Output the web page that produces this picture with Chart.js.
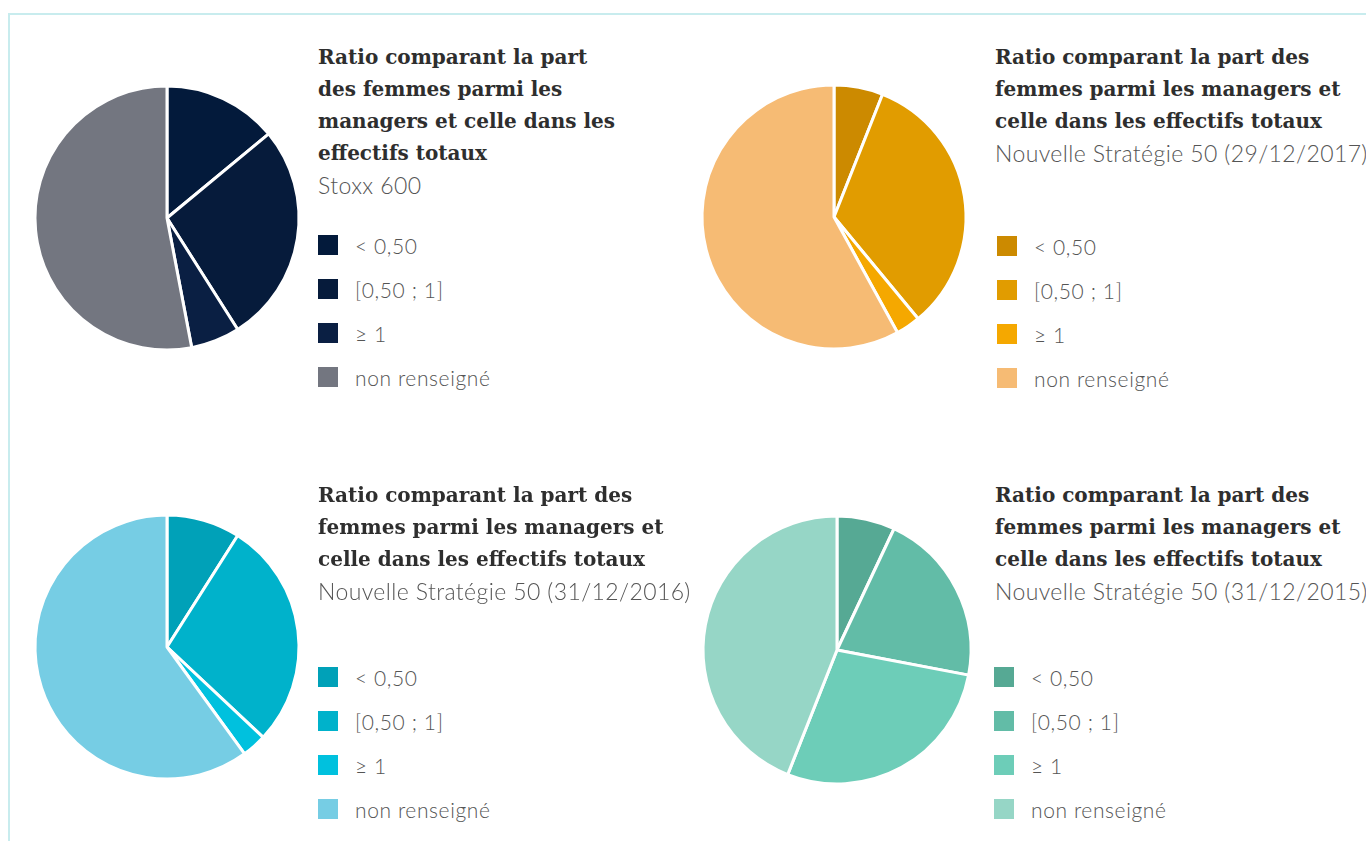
<!DOCTYPE html>
<html lang="fr">
<head>
<meta charset="utf-8">
<script src="https://cdn.jsdelivr.net/npm/chart.js@4"></script>
<style>
    body { margin: 0; background: #fff; width: 1366px; height: 841px; overflow: hidden; position: relative; }
    .frame { position: absolute; left: 8px; top: 13px; width: 1400px; height: 900px; border-top: 2px solid #c8ecee; border-left: 2px solid #c8ecee; }
    .pie { position: absolute; }
    .title { position: absolute; font-family: "DejaVu Serif", serif; font-weight: bold; font-size: 20px; line-height: 32px; color: #2e2e2e; white-space: nowrap; }
    .sub { font-family: Lato, sans-serif; font-weight: 300; font-size: 23px; letter-spacing: 0.4px; color: #555; }
    .legend { position: absolute; font-family: Lato, sans-serif; font-weight: 300; font-size: 21px; letter-spacing: 0.6px; color: #555; }
    .legend div { height: 44px; display: flex; align-items: center; }
    .legend span.box { display: inline-block; width: 20px; height: 20px; margin-right: 17px; }
</style>
</head>
<body>
<div class="frame"></div>

<canvas id="pie1" class="pie" width="300" height="300" style="left:17px;top:68px"></canvas>
<canvas id="pie2" class="pie" width="300" height="300" style="left:684px;top:67px"></canvas>
<canvas id="pie3" class="pie" width="300" height="300" style="left:17px;top:497px"></canvas>
<canvas id="pie4" class="pie" width="300" height="300" style="left:687px;top:500px"></canvas>

<div id="title1" class="title" style="left:318px;top:41px"></div>
<div id="title2" class="title" style="left:995px;top:41px"></div>
<div id="title3" class="title" style="left:318px;top:479px"></div>
<div id="title4" class="title" style="left:995px;top:479px"></div>

<div id="legend1" class="legend" style="left:318px;top:223px"></div>
<div id="legend2" class="legend" style="left:997px;top:224px"></div>
<div id="legend3" class="legend" style="left:318px;top:655px"></div>
<div id="legend4" class="legend" style="left:994px;top:655px"></div>

<script>
// categories (same for all four pies)
const labels = ['< 0,50', '[0,50 ; 1]', '\u2265 1', 'non renseign\u00e9'];

// shares in %, clockwise from 12 o'clock
const stoxx600 = [14, 27, 6, 53];
const ns50_2017 = [6, 33, 3, 58];
const ns50_2016 = [9, 28, 3, 60];
const ns50_2015 = [7, 21, 28, 44];

const titleLinesNarrow = ['Ratio comparant la part', 'des femmes parmi les', 'managers et celle dans les', 'effectifs totaux'];
const titleLinesWide = ['Ratio comparant la part des', 'femmes parmi les managers et', 'celle dans les effectifs totaux'];
const subtitles = ['Stoxx 600', 'Nouvelle Strat\u00e9gie 50 (29/12/2017)', 'Nouvelle Strat\u00e9gie 50 (31/12/2016)', 'Nouvelle Strat\u00e9gie 50 (31/12/2015)'];

const navy = ['#031a3b', '#061b3b', '#0a1f43', '#737680'];
const amber = ['#cc8a00', '#e19c00', '#f5a800', '#f6bb74'];
const cyan = ['#00a1b8', '#00b2cb', '#00c1de', '#76cde4'];
const teal = ['#56a994', '#62bca7', '#6dcdb8', '#96d6c6'];

function drawPie(id, values, colors, radius) {
    new Chart(document.getElementById(id), {
        type: 'pie',
        data: {
            labels: labels,
            datasets: [{
                data: values,
                backgroundColor: colors,
                borderColor: '#ffffff',
                borderWidth: 3,
                hoverOffset: 0
            }]
        },
        options: {
            responsive: false,
            animation: false,
            radius: radius,
            plugins: {
                legend: { display: false },
                tooltip: { enabled: false }
            }
        }
    });
}

function fillText(n, lines, sub, colors) {
    const t = document.getElementById('title' + n);
    t.innerHTML = lines.join('<br>') + '<br><span class="sub">' + sub + '</span>';
    const l = document.getElementById('legend' + n);
    for (let i = 0; i < labels.length; i++) {
        const row = document.createElement('div');
        const box = document.createElement('span');
        box.className = 'box';
        box.style.background = colors[i];
        row.appendChild(box);
        row.appendChild(document.createTextNode(labels[i]));
        l.appendChild(row);
    }
}

drawPie('pie1', stoxx600, navy, 132);
drawPie('pie2', ns50_2017, amber, 132);
drawPie('pie3', ns50_2016, cyan, 132);
drawPie('pie4', ns50_2015, teal, 134);

fillText(1, titleLinesNarrow, subtitles[0], navy);
fillText(2, titleLinesWide, subtitles[1], amber);
fillText(3, titleLinesWide, subtitles[2], cyan);
fillText(4, titleLinesWide, subtitles[3], teal);
</script>
</body>
</html>
